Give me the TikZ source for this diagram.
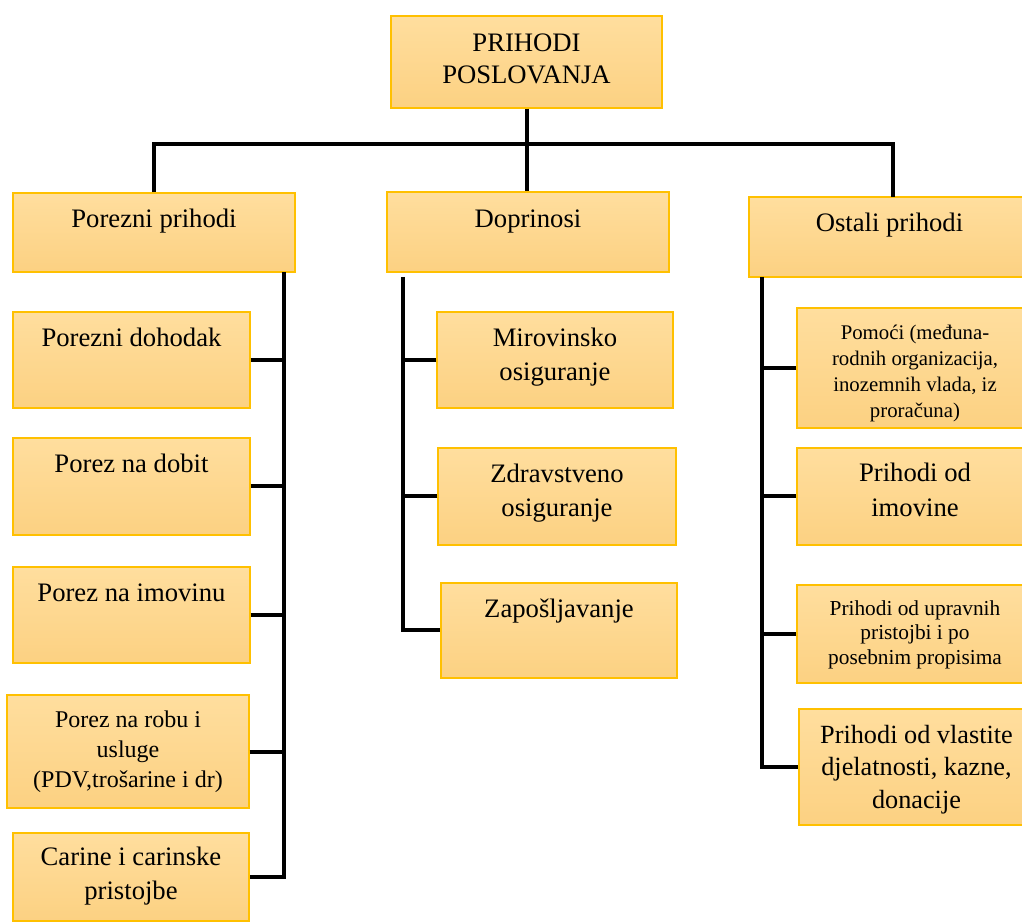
\documentclass[tikz,border=0pt]{standalone}
\usepackage{fontspec}
\setmainfont{Liberation Serif}
\usetikzlibrary{fit}
\definecolor{boxtop}{RGB}{255,222,158}
\definecolor{boxbot}{RGB}{252,209,130}
\definecolor{boxline}{RGB}{255,192,0}
\newcommand\fsz[2]{\fontsize{#1}{#2}\selectfont}
\newcommand\ptxt[1]{\parbox[t]{240pt}{\centering #1}}
\tikzset{
  box/.style={draw=boxline, line width=0.8pt, top color=boxtop, bottom color=boxbot, inner sep=0pt},
  lbl/.style={anchor=base, inner sep=0pt, text=black},
  conn/.style={line width=3pt, line join=miter, black}
}
\begin{document}
\begin{tikzpicture}[x=0.75pt,y=-0.75pt]
\useasboundingbox (0,0) rectangle (1022,923);
% boxes
\node[box, fit={(391,16) (662,108)}] (top) {};
\node[box, fit={(13,193) (295,272)}] (pp) {};
\node[box, fit={(387,192) (669,272)}] (dop) {};
\node[box, fit={(749,197) (1032,277)}] (ost) {};
\node[box, fit={(13,312) (250,408)}] (pd) {};
\node[box, fit={(13,438) (250,535)}] (pdb) {};
\node[box, fit={(13,567) (250,663)}] (pim) {};
\node[box, fit={(7,695) (249,808)}] (prs) {};
\node[box, fit={(13,833) (249,921)}] (car) {};
\node[box, fit={(437,312) (673,408)}] (mir) {};
\node[box, fit={(438,448) (676,545)}] (zdr) {};
\node[box, fit={(441,583) (677,678)}] (zap) {};
\node[box, fit={(797,308) (1032,428)}] (pom) {};
\node[box, fit={(797,448) (1032,545)}] (imo) {};
\node[box, fit={(797,585) (1032,683)}] (upr) {};
\node[box, fit={(799,709) (1032,825)}] (vla) {};
% labels
\node[lbl] (top-t) at (526.5,52) {\fsz{20}{23.3}\ptxt{PRIHODI\\POSLOVANJA}};
\node[lbl] (pp-t) at (154,228) {\fsz{20}{24}\ptxt{Porezni prihodi}};
\node[lbl] (dop-t) at (528,228) {\fsz{20}{24}\ptxt{Doprinosi}};
\node[lbl] (ost-t) at (889.5,232) {\fsz{20}{24}\ptxt{Ostali prihodi}};
\node[lbl] (pd-t) at (131.5,347) {\fsz{20}{24}\ptxt{Porezni dohodak}};
\node[lbl] (pdb-t) at (131.5,473) {\fsz{20}{24}\ptxt{Porez na dobit}};
\node[lbl] (pim-t) at (131.5,602) {\fsz{20}{24}\ptxt{Porez na imovinu}};
\node[lbl] (prs-t) at (128,727) {\fsz{18}{22.5}\ptxt{Porez na robu i\\usluge\\(PDV,trošarine i dr)}};
\node[lbl] (car-t) at (131,865) {\fsz{20}{26}\ptxt{Carine i carinske\\pristojbe}};
\node[lbl] (mir-t) at (555,347) {\fsz{20}{25.5}\ptxt{Mirovinsko\\osiguranje}};
\node[lbl] (zdr-t) at (557,483) {\fsz{20}{25.5}\ptxt{Zdravstveno\\osiguranje}};
\node[lbl] (zap-t) at (559,618) {\fsz{20}{25}\ptxt{Zapošljavanje}};
\node[lbl] (pom-t) at (915,340) {\fsz{15.6}{19.5}\ptxt{Pomoći (međuna-\\rodnih organizacija,\\inozemnih vlada, iz\\proračuna)}};
\node[lbl] (imo-t) at (915,482) {\fsz{20}{26}\ptxt{Prihodi od\\imovine}};
\node[lbl] (upr-t) at (915,615) {\fsz{16}{18.75}\ptxt{Prihodi od upravnih\\pristojbi i po\\posebnim propisima}};
\node[lbl] (vla-t) at (916.5,743) {\fsz{19.7}{24.4}\ptxt{Prihodi od vlastite\\djelatnosti, kazne,\\donacije}};
% connector helper points
\coordinate (bus) at (527,144);
\coordinate (ostx) at (893,197);
\coordinate (tL) at (284,272);
\coordinate (tM) at (403,277);
\coordinate (tR) at (762,277);
% top level
\draw[conn] (top.south) -- (top.south |- dop.north);
\draw[conn] (pp.north) -- (pp.north |- bus) -- (bus -| ostx) -- (ostx);
% left branch
\draw[conn] (tL) |- (car.east);
\foreach \n in {pd,pdb,pim,prs} \draw[conn] (\n.east) -- (\n.east -| tL);
% middle branch
\draw[conn] (tM) |- (zap.west);
\foreach \n in {mir,zdr} \draw[conn] (\n.west) -- (\n.west -| tM);
% right branch
\draw[conn] (tR) |- (vla.west);
\foreach \n in {pom,imo,upr} \draw[conn] (\n.west) -- (\n.west -| tR);
\end{tikzpicture}
\end{document}
